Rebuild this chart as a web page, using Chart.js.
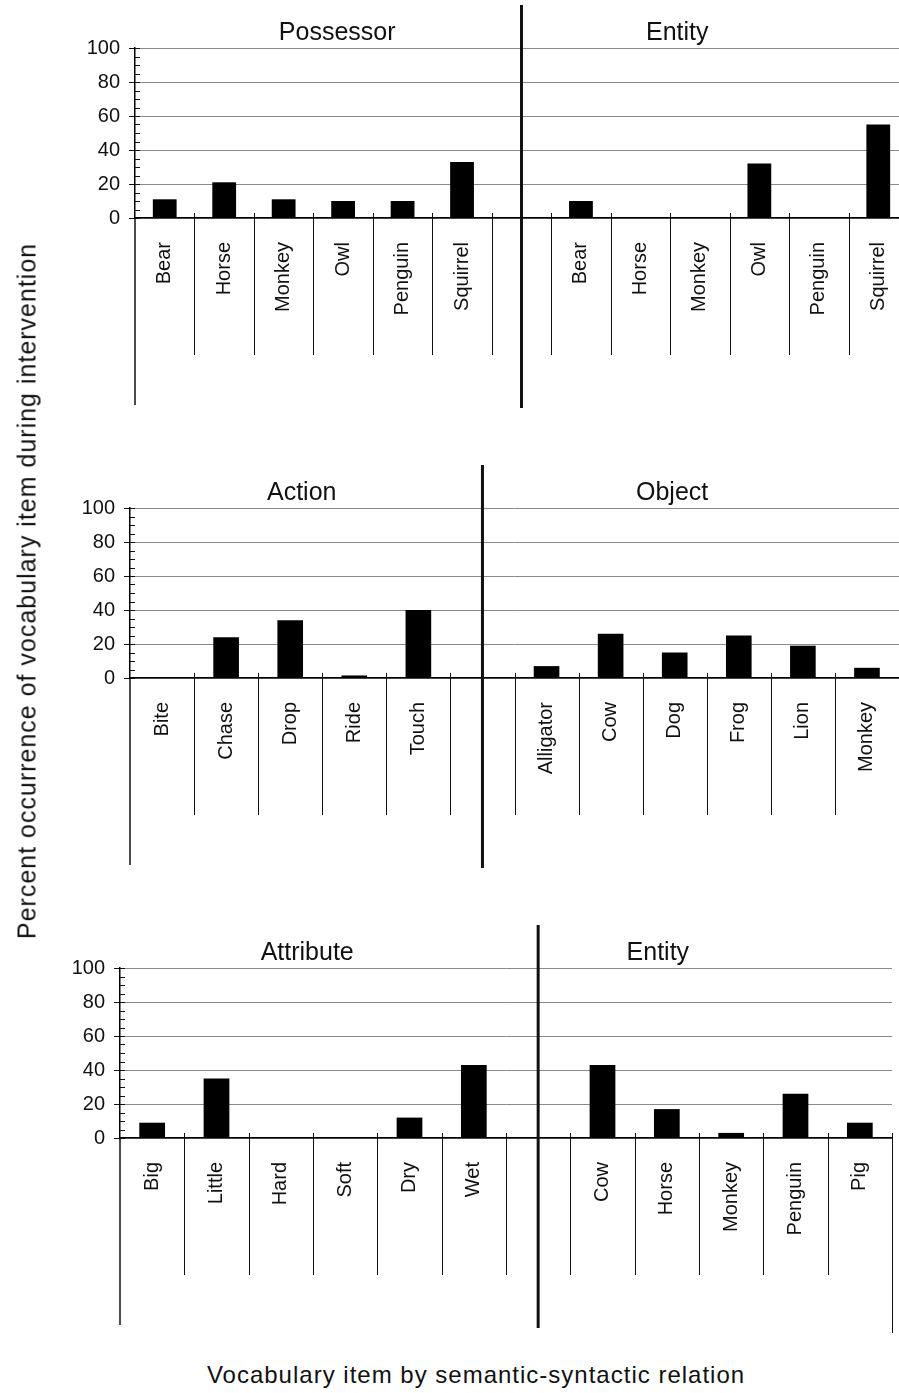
<!DOCTYPE html>
<html>
<head>
<meta charset="utf-8">
<script src="https://cdn.jsdelivr.net/npm/chart.js@4/dist/chart.umd.min.js"></script>
<style>
  html, body { margin: 0; padding: 0; background: #fff; overflow: hidden; }
  #page { position: relative; width: 899px; height: 1393px; overflow: hidden; }
  canvas { position: absolute; left: 0; }
  #yTitle {
    position: absolute; left: 27px; top: 591px;
    transform: translate(-50%, -50%) rotate(-90deg);
    font: 25px "Liberation Sans", Arial, sans-serif; letter-spacing: 1px;
    white-space: nowrap; color: #111;
  }
  #xTitle {
    position: absolute; left: 476px; top: 1361px;
    transform: translateX(-50%);
    font: 24px "Liberation Sans", Arial, sans-serif; letter-spacing: 1px;
    white-space: nowrap; color: #111;
  }
</style>
</head>
<body>
<div id="page">
  <canvas id="panel1" width="908" height="416" style="top:0px"></canvas>
  <canvas id="panel2" width="899" height="416" style="top:460px"></canvas>
  <canvas id="panel3" width="899" height="416" style="top:920px"></canvas>
  <div id="yTitle">Percent occurrence of vocabulary item during intervention</div>
  <div id="xTitle">Vocabulary item by semantic-syntactic relation</div>
</div>

<script>
// Panel 1
const possessorItems = ['Bear', 'Horse', 'Monkey', 'Owl', 'Penguin', 'Squirrel'];
const possessorValues = [11, 21, 11, 10, 10, 33];
const entityItemsA = ['Bear', 'Horse', 'Monkey', 'Owl', 'Penguin', 'Squirrel'];
const entityValuesA = [10, 0, 0, 32, 0, 55];

// Panel 2
const actionItems = ['Bite', 'Chase', 'Drop', 'Ride', 'Touch'];
const actionValues = [0, 24, 34, 1.5, 40];
const objectItems = ['Alligator', 'Cow', 'Dog', 'Frog', 'Lion', 'Monkey'];
const objectValues = [7, 26, 15, 25, 19, 6];

// Panel 3
const attributeItems = ['Big', 'Little', 'Hard', 'Soft', 'Dry', 'Wet'];
const attributeValues = [9, 35, 0, 0, 12, 43];
const entityItemsB = ['Cow', 'Horse', 'Monkey', 'Penguin', 'Pig'];
const entityValuesB = [43, 17, 3, 26, 9];

const yTicks = [0, 20, 40, 60, 80, 100];

const FONT = '"Liberation Sans", Arial, sans-serif';

function line(ctx, x1, y1, x2, y2) {
    ctx.beginPath();
    ctx.moveTo(x1, y1);
    ctx.lineTo(x2, y2);
    ctx.stroke();
}

// separators under the axis, axis extension, minor ticks, divider, group titles
const panelDecor = {
    id: 'panelDecor',
    afterDraw(chart) {
        const o = chart.options.plugins.panelDecor;
        const { ctx, chartArea } = chart;
        const x = chart.scales.x;
        const y = chart.scales.y;
        const n = chart.data.labels.length;
        ctx.save();
        ctx.strokeStyle = '#111';
        ctx.lineWidth = 1;
        for (let i = 1; i <= n; i++) {
            const px = Math.round(x.getPixelForValue(i - 0.5)) + 0.5;
            const bottom = (i === n && o.longRightEdge) ? o.extBottom + 8 : o.sepBottom;
            line(ctx, px, chartArea.bottom - 5, px, bottom);
        }
        ctx.lineWidth = 1.5;
        line(ctx, chartArea.left, chartArea.bottom, chartArea.left, o.extBottom);
        ctx.lineWidth = 1;
        y.ticks.forEach(t => {
            const py = Math.round(y.getPixelForValue(t.value)) + 0.5;
            line(ctx, chartArea.left, py, chartArea.left + 5, py);
        });
        ctx.lineWidth = 3;
        const dx = x.getPixelForValue(o.blankIndex);
        line(ctx, dx, o.dividerTop, dx, o.extBottom + 3);

        ctx.fillStyle = '#111';
        ctx.font = '25px ' + FONT;
        ctx.textAlign = 'center';
        ctx.textBaseline = 'alphabetic';
        o.titles.forEach((t, k) => {
            ctx.fillText(t, x.getPixelForValue(o.titleAt[k]), chartArea.top - 8);
        });
        ctx.restore();
    }
};

function makePanel(id, p) {
    const labels = [...p.leftItems, '', ...p.rightItems];
    const values = [...p.leftValues, null, ...p.rightValues];
    const canvas = document.getElementById(id);
    const H = canvas.height;

    return new Chart(canvas.getContext('2d'), {
        type: 'bar',
        data: {
            labels: labels,
            datasets: [{
                data: values,
                backgroundColor: '#000',
                barPercentage: 0.4,
                categoryPercentage: 1.0
            }]
        },
        options: {
            responsive: false,
            animation: false,
            layout: { padding: { top: 48, left: 0, right: p.padRight, bottom: 0 } },
            plugins: {
                legend: { display: false },
                tooltip: { enabled: false },
                panelDecor: {
                    blankIndex: p.leftItems.length,
                    titles: p.titles,
                    titleAt: p.titleAt,
                    sepBottom: 355,
                    extBottom: 405,
                    dividerTop: 5,
                    longRightEdge: p.longRightEdge
                }
            },
            scales: {
                x: {
                    grid: { display: false, drawTicks: false },
                    border: { display: true, color: '#000', width: 1.5 },
                    ticks: {
                        autoSkip: false,
                        minRotation: 90,
                        maxRotation: 90,
                        padding: 24,
                        color: '#111',
                        font: { family: FONT, size: 20 }
                    },
                    afterFit(scale) {
                        scale.height = H - 218;
                        scale.paddingLeft = 0;
                        scale.paddingRight = 0;
                    }
                },
                y: {
                    min: 0,
                    max: 100,
                    grid: {
                        color: c => yTicks.includes(c.tick.value) ? '#8a8a8a' : 'rgba(0,0,0,0)',
                        tickColor: c => yTicks.includes(c.tick.value) ? '#111' : 'rgba(0,0,0,0)',
                        tickLength: 6,
                        lineWidth: 1
                    },
                    border: { display: true, color: '#000', width: 1.5 },
                    ticks: {
                        stepSize: 5,
                        autoSkip: false,
                        padding: 9,
                        color: '#111',
                        font: { family: FONT, size: 20 },
                        callback: v => yTicks.includes(v) ? v : ''
                    },
                    afterFit(scale) { scale.width = p.axisLeft; }
                }
            }
        },
        plugins: [panelDecor]
    });
}

makePanel('panel1', {
    leftItems: possessorItems, leftValues: possessorValues,
    rightItems: entityItemsA, rightValues: entityValuesA,
    titles: ['Possessor', 'Entity'], titleAt: [2.9, 8.62],
    axisLeft: 135, padRight: 0, longRightEdge: false
});

makePanel('panel2', {
    leftItems: actionItems, leftValues: actionValues,
    rightItems: objectItems, rightValues: objectValues,
    titles: ['Action', 'Object'], titleAt: [2.18, 7.96],
    axisLeft: 130, padRight: 0, longRightEdge: false
});

makePanel('panel3', {
    leftItems: attributeItems, leftValues: attributeValues,
    rightItems: entityItemsB, rightValues: entityValuesB,
    titles: ['Attribute', 'Entity'], titleAt: [2.41, 7.86],
    axisLeft: 120, padRight: 7, longRightEdge: true
});
</script>
</body>
</html>
